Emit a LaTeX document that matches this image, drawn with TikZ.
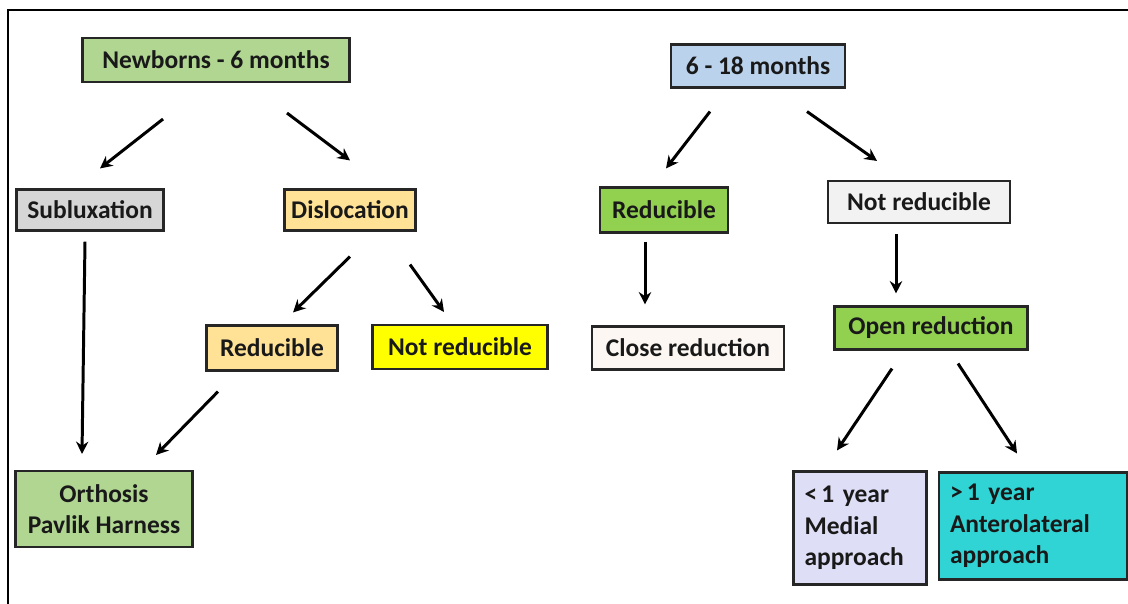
\documentclass[tikz,border=0pt]{standalone}
\usepackage{fontspec}
\setmainfont{Carlito}
\usetikzlibrary{calc}
\usetikzlibrary{arrows.meta}

\definecolor{boxgreen}{RGB}{176,214,146}
\definecolor{boxblue}{RGB}{186,210,236}
\definecolor{boxgray}{RGB}{214,214,214}
\definecolor{boxsand}{RGB}{255,226,150}
\definecolor{boxyellow}{RGB}{255,255,0}
\definecolor{boxlime}{RGB}{146,208,80}
\definecolor{boxwhite}{RGB}{242,242,242}
\definecolor{boxcream}{RGB}{252,247,242}
\definecolor{boxlilac}{RGB}{222,222,246}
\definecolor{boxcyan}{RGB}{48,212,212}

\tikzset{
  box/.style={draw=black!85, line width=1.2pt, inner sep=0pt, text=black!90,
    font=\bfseries\fontsize{14.5}{18}\selectfont},
  arr/.style={line width=1.7pt, -{Stealth[length=7pt,width=7pt]}},
}

\begin{document}
\begin{tikzpicture}[x=0.02cm,y=-0.02cm]
  \useasboundingbox (0,0) rectangle (1128,604);
  \draw[line width=1.6pt] (8,604) -- (8,10) -- (1128,10);

  % first age group
  \node[box, fill=boxgreen, minimum width=5.34cm, minimum height=0.88cm] (nb) at (216,60) {Newborns - 6 months};
  \node[box, fill=boxgray, minimum width=2.94cm, minimum height=0.82cm] (sub) at (90,210) {Subluxation};
  \node[box, fill=boxsand, minimum width=2.62cm, minimum height=0.82cm] (dis) at (350,210) {Dislocation};
  \node[box, fill=boxsand, minimum width=2.62cm, minimum height=0.9cm] (redL) at (272,348) {Reducible};
  \node[box, fill=boxyellow, minimum width=3.5cm, minimum height=0.88cm] (nrL) at (460,347) {Not reducible};
  \node[box, fill=boxgreen, minimum width=3.54cm, minimum height=1.52cm, align=center] (orth) at (104,509) {Orthosis\\Pavlik Harness};

  % second age group
  \node[box, fill=boxblue, minimum width=3.48cm, minimum height=0.86cm] (m18) at (758,66) {6 - 18 months};
  \node[box, fill=boxlime, minimum width=2.56cm, minimum height=0.9cm] (redR) at (664,210) {Reducible};
  \node[box, fill=boxwhite, minimum width=3.64cm, minimum height=0.84cm] (nrR) at (919,202) {Not reducible};
  \node[box, fill=boxcream, minimum width=3.84cm, minimum height=0.86cm] (close) at (688,348) {Close reduction};
  \node[box, fill=boxlime, minimum width=3.86cm, minimum height=0.86cm] (open) at (931,328) {Open reduction};
  \node[box, fill=boxlilac, minimum width=2.66cm, minimum height=2.26cm, text width=2.22cm, align=left] (med) at (860,528) {<\,1 year\\Medial\\approach};
  \node[box, fill=boxcyan, minimum width=3.76cm, minimum height=2.14cm, text width=3.32cm, align=left] (ant) at (1033,526) {>\,1 year\\Anterolateral\\approach};

  % arrows
  \draw[arr] ($(nb.south)+(-53,36)$) -- ($(sub.north)+(10,-20)$);
  \draw[arr] ($(nb.south)+(71,30)$) -- ($(dis.north)+(0,-28)$);
  \draw[arr] ($(sub.south)+(-5,10)$) -- ($(orth.north)+(-22,-16)$);
  \draw[arr] ($(dis.south)+(0,25)$) -- ($(redL.north)+(21,-12)$);
  \draw[arr] ($(dis.south)+(60,33)$) -- ($(nrL.north)+(-16,-12)$);
  \draw[arr] ($(redL.south)+(-54,20)$) -- ($(orth.north)+(52,-15)$);
  \draw[arr] ($(m18.south)+(-48,23)$) -- ($(redR.north)+(2,-18)$);
  \draw[arr] ($(m18.south)+(49,23)$) -- ($(nrR.north)+(-42,-19)$);
  \draw[arr] ($(redR.south)+(-19,8)$) -- ($(close.north)+(-43,-21)$);
  \draw[arr] ($(nrR.south)+(-23,10)$) -- ($(open.north)+(-35,-12)$);
  \draw[arr] ($(open.south)+(-39,18)$) -- ($(med.north)+(-23,-20)$);
  \draw[arr] ($(open.south)+(27,13)$) -- ($(ant.north)+(-16,-18)$);
\end{tikzpicture}
\end{document}
